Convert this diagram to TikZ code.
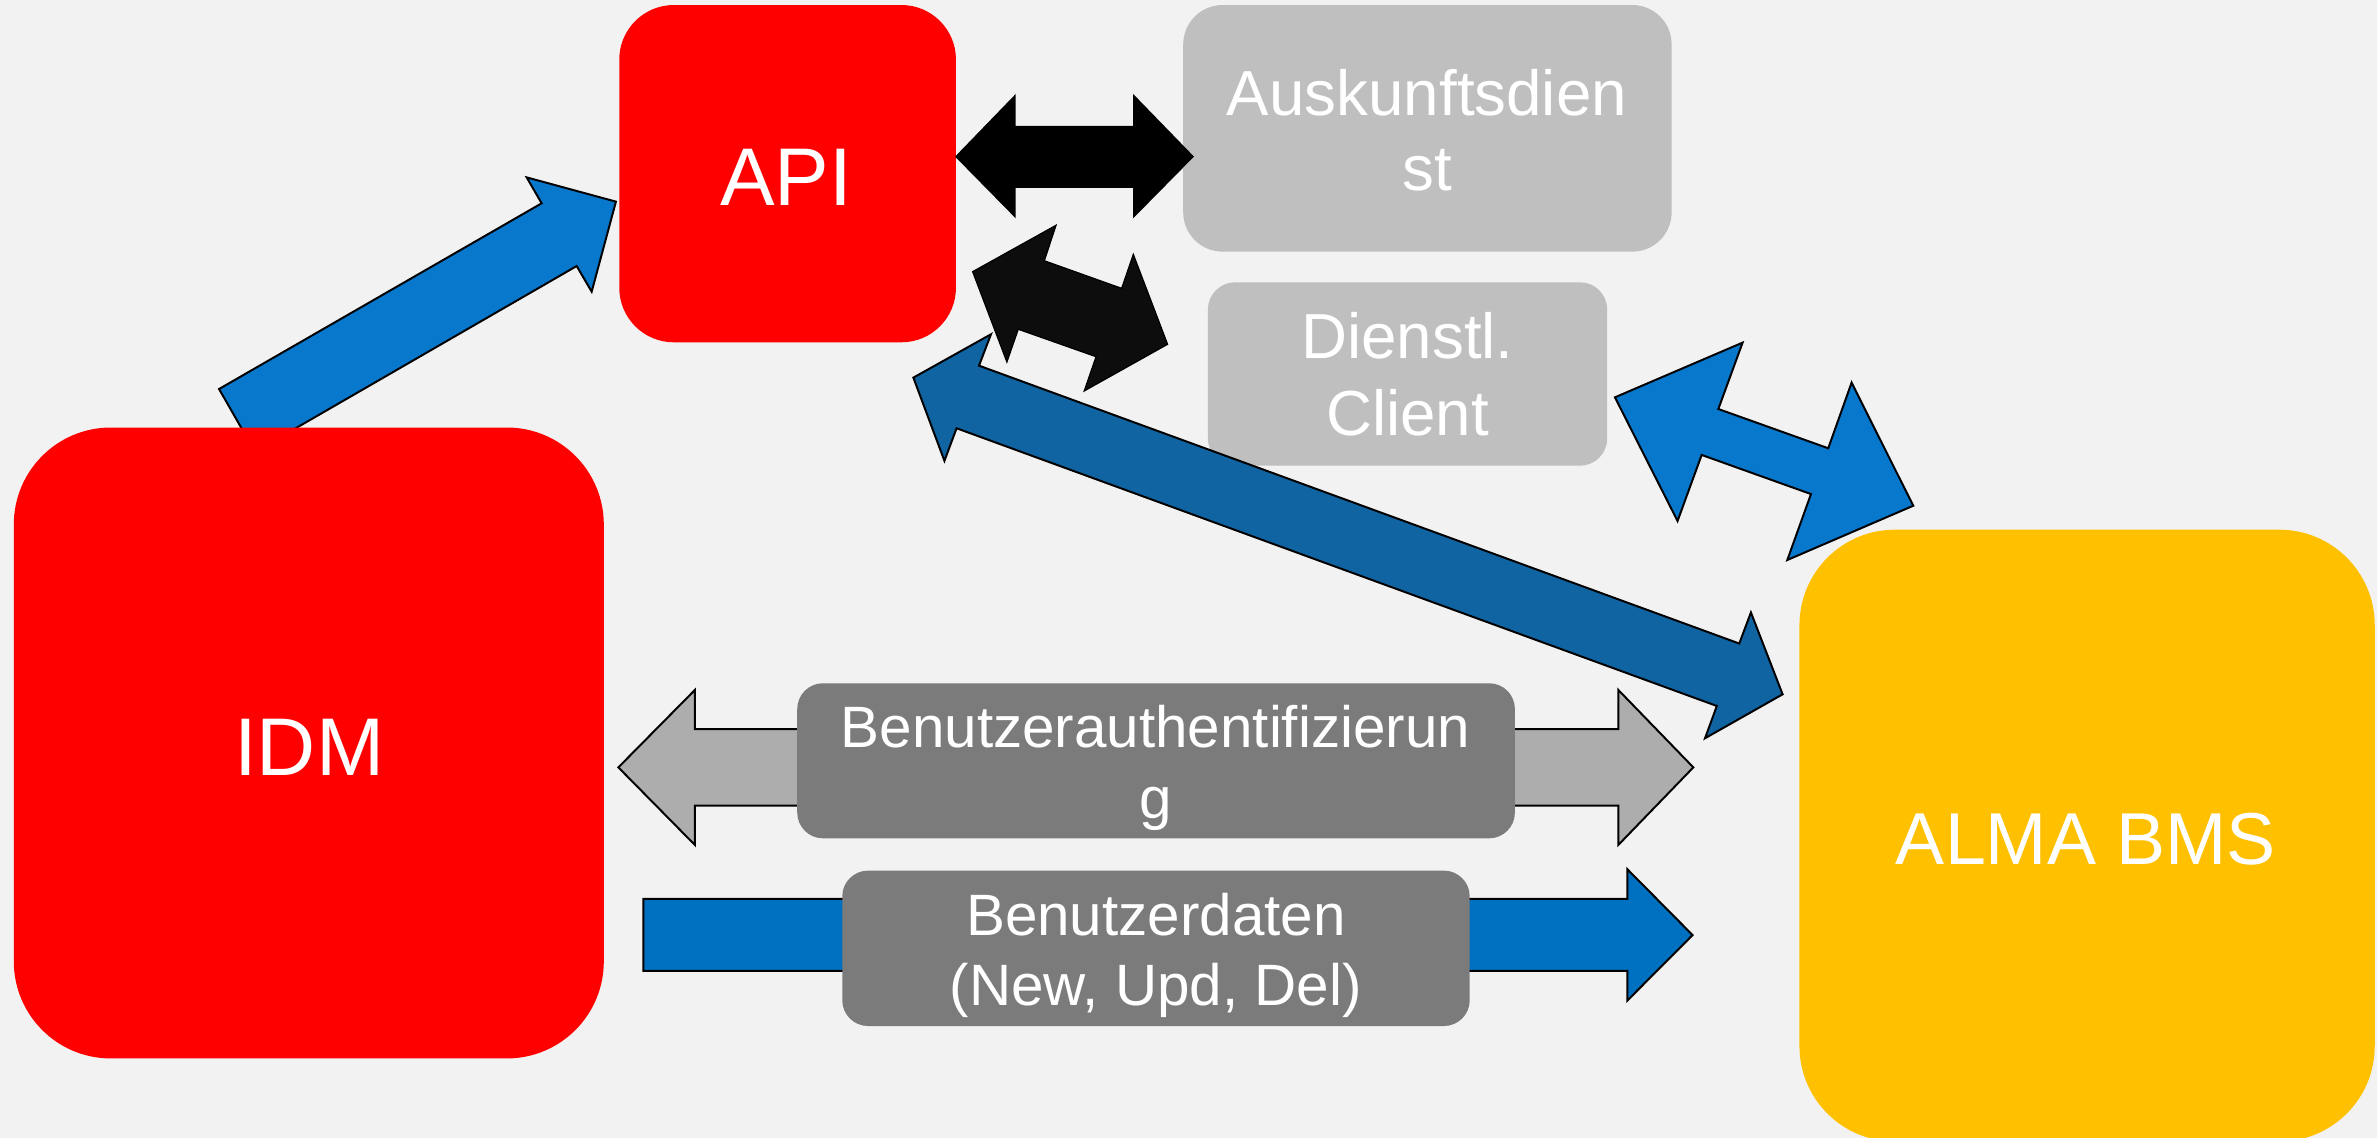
\documentclass[tikz,border=0pt]{standalone}
\usepackage{fontspec}
\setmainfont{Liberation Sans}
\definecolor{bg}{HTML}{F2F2F2}
\definecolor{boxred}{HTML}{FF0000}
\definecolor{boxgrey}{HTML}{BFBFBF}
\definecolor{boxyellow}{HTML}{FFC000}
\definecolor{lblgrey}{HTML}{7B7B7B}
\definecolor{arrgrey}{HTML}{ADADAD}
\definecolor{arrblue}{HTML}{0778CC}
\definecolor{arrdark}{HTML}{1064A2}
\definecolor{arrblue2}{HTML}{0070C0}
\definecolor{arrblack}{HTML}{0D0D0D}
\begin{document}
\begin{tikzpicture}[x=1pt,y=-1pt,
  box/.style={rectangle, inner sep=0pt, outer sep=0pt, draw=none},
  blockarrow/.style={draw=black, line width=1.3pt, line join=miter},
  txt/.style={anchor=base, inner sep=0pt, text=white},
  big/.style={txt, font=\fontsize{54}{60}\selectfont},
  mid/.style={txt, font=\fontsize{42}{50}\selectfont},
  alma/.style={txt, font=\fontsize{48.5}{56}\selectfont},
  small/.style={txt, font=\fontsize{38.5}{46}\selectfont}]
\useasboundingbox (0,0) rectangle (1568,750.66);
\fill[bg] (0,0) rectangle (1568,750.66);

% arrow IDM -> API (behind IDM)
\filldraw[blockarrow, fill=arrblue] (144.5,256.6) -- (357.3,134.1) -- (347.4,117) -- (406.3,133)
  -- (390.3,192.4) -- (380.4,175.5) -- (168.2,298) -- cycle;

% main boxes
\node[box, fill=boxred, rounded corners=36pt, minimum width=222.1pt, minimum height=222.5pt] (api) at (519.55,114.55) {};
\node[box, fill=boxgrey, rounded corners=26pt, minimum width=322.2pt, minimum height=162.7pt] (ausk) at (941.6,84.65) {};
\node[box, fill=boxgrey, rounded corners=18pt, minimum width=263.4pt, minimum height=121pt] (client) at (928.5,246.7) {};
\node[box, fill=boxred, rounded corners=64pt, minimum width=389.2pt, minimum height=416.2pt] (idm) at (203.7,490.1) {};
\node[box, fill=boxyellow, rounded corners=63pt, minimum width=379.5pt, minimum height=403.6pt] (alma) at (1376.75,551.2) {};

% texts in main boxes
\node[big] (apiT) at (518.5,135.7) {API};
\node[mid] (auskT1) at (941.3,75.9) {Auskunftsdien};
\node[mid] (auskT2) at (941.3,125.8) {st};
\node[mid] (clientT1) at (928.5,236.2) {Dienstl.};
\node[mid] (clientT2) at (928.5,287.2) {Client};
\node[big] (idmT) at (204,511.7) {IDM};
\node[alma] (almaT) at (1376,570) {ALMA BMS};

% black horizontal double arrow API <-> Auskunftsdienst
\fill[black] (630,103.3) -- (670,62) -- (670,83) -- (747.5,83) -- (747.5,62) -- (787.6,103.3)
  -- (747.5,144) -- (747.5,124) -- (670,124) -- (670,144) -- cycle;

% tilted black double arrow
\filldraw[blockarrow, fill=arrblack, line width=0.8pt] (641.6,179.2) -- (696.6,148.6) -- (688.9,172) -- (739.9,190.2)
  -- (747.6,167.8) -- (770.2,227.1) -- (715.2,257.9) -- (723,235.3) -- (671.7,217.2)
  -- (664.2,238.8) -- cycle;

% long dark blue double arrow API <-> ALMA
\filldraw[blockarrow, fill=arrdark] (602.5,249.1) -- (653.7,220.5) -- (645.8,241.2) -- (1147.3,424.5)
  -- (1155,404) -- (1175.9,458) -- (1124.7,487) -- (1132.5,465.7) -- (631,282.5)
  -- (623,304) -- cycle;

% blue double arrow Client <-> ALMA
\filldraw[blockarrow, fill=arrblue] (1065.3,262.1) -- (1149.5,226) -- (1133.5,269.8) -- (1206,295.7)
  -- (1221.4,252.4) -- (1262.1,333.6) -- (1179,369.4) -- (1194.6,325.9) -- (1122.5,300.1)
  -- (1106.6,343.7) -- cycle;

% grey double arrow (Benutzerauthentifizierung)
\filldraw[blockarrow, fill=arrgrey] (407.9,506.2) -- (458.4,455.1) -- (458.4,480.9) -- (1067.5,480.9)
  -- (1067.5,455.1) -- (1117,506.2) -- (1067.5,557.4) -- (1067.5,531.4) -- (458.4,531.4)
  -- (458.4,557.4) -- cycle;

% blue single arrow (Benutzerdaten)
\filldraw[blockarrow, fill=arrblue2] (424.4,593) -- (1073.5,593) -- (1073.5,573.4) -- (1116.5,616.8)
  -- (1073.5,660) -- (1073.5,640.5) -- (424.4,640.5) -- cycle;

% label boxes
\node[box, fill=lblgrey, rounded corners=17pt, minimum width=473.4pt, minimum height=102.3pt] (auth) at (762.6,501.85) {};
\node[box, fill=lblgrey, rounded corners=17pt, minimum width=413.9pt, minimum height=102.5pt] (data) at (762.55,625.55) {};
\node[small] (authT1) at (762.2,493.2) {Benutzerauthentifizierun};
\node[small] (authT2) at (762.2,539.6) {g};
\node[small] (dataT1) at (762.5,616.8) {Benutzerdaten};
\node[small] (dataT2) at (762.5,663.4) {(New, Upd, Del)};
\end{tikzpicture}
\end{document}
